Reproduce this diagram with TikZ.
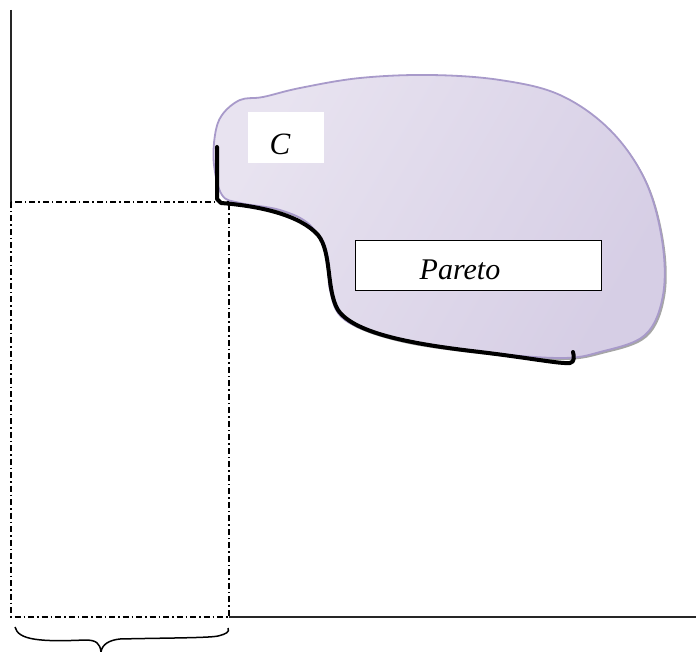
\documentclass[tikz,border=0pt]{standalone}
\usepackage{fontspec}
\setmainfont{Liberation Serif}
\begin{document}
\begin{tikzpicture}[x=1pt,y=-1pt,
  axis/.style={line width=1.5pt,black!85},
  dashdot/.style={line width=1.5pt,dash pattern=on 6pt off 3pt on 1.5pt off 3pt},
  front/.style={line width=4pt,black,line cap=round,line join=round},
  labelbox/.style={fill=white,inner sep=0pt,anchor=north west},
  blobborder/.style={draw={rgb,255:red,168;green,154;blue,202},line width=1.8pt}]
\definecolor{blobA}{RGB}{232,227,240}
\definecolor{blobB}{RGB}{214,206,229}
\useasboundingbox (0,0) rectangle (696,652);
% shadow
\fill[black!35] plot[smooth cycle,tension=0.6] coordinates {
 (224,118) (242,102) (265,99) (300,90) (360,80) (430,77) (500,82) (560,97)
 (612,132) (647,182) (664,242) (665,297) (647,337) (602,354) (560,360) (480,354)
 (400,342) (347,322) (332,292) (329,257) (312,227) (282,212) (242,205) (224,197)
 (216,167) (217,137)};
% blob
\path[blobborder,left color=blobA,right color=blobB,shading angle=60]
 plot[smooth cycle,tension=0.6] coordinates {
 (222,115) (240,100) (263,97) (300,88) (360,78) (430,75) (500,80) (560,95)
 (610,130) (645,180) (662,240) (663,295) (645,335) (600,352) (560,358) (480,352)
 (400,340) (345,320) (330,290) (327,255) (310,225) (280,210) (240,203) (222,195)
 (214,165) (215,135)};
% axes
\coordinate (top) at (11,10);
\coordinate (corner) at (11,202);
\coordinate (xend) at (696,617);
\coordinate (xstart) at (229,617);
\draw[axis] (top) -- (corner);
\draw[axis] (xstart) -- (xend);
% dash-dot rectangle
\coordinate (r1) at (11,202);
\coordinate (r2) at (229,617);
\draw[dashdot] (r1) rectangle (r2);
% Pareto front
\coordinate (f0) at (217,147);
\coordinate (f1) at (217,199);
\draw[front] (f0) -- (f1) -- (221,203) .. controls (260,206) and (300,215) .. (318,235)
 .. controls (332,252) and (326,290) .. (338,310)
 .. controls (355,335) and (420,345) .. (480,352)
 .. controls (530,358) and (560,364) .. (570,363) .. controls (575,362) and (574,356) .. (573,352);
% labels
\node[labelbox,minimum width=76pt,minimum height=51pt] (cbox) at (248,112) {};
\node[font=\fontsize{31}{31}\selectfont\itshape,anchor=base] (clabel) at (280,155) {C};
\node[draw,line width=1.2pt,fill=white,inner sep=0pt,anchor=north west,minimum width=246pt,minimum height=50pt] (pbox) at (355,240) {};
\node[font=\fontsize{30}{30}\selectfont\itshape,anchor=base] (plabel) at (460,280) {Pareto};
% brace
\coordinate (b0) at (15,627);
\coordinate (b1) at (228,628);
\coordinate (btip) at (101,652);
\draw[line width=1.5pt] (b0) .. controls (18,640) and (40,642) .. (85,640)
 .. controls (96,640) and (100,643) .. (btip);
\draw[line width=1.5pt] (btip) .. controls (102,644) and (110,640) .. (120,639)
 .. controls (160,638) and (210,638) .. (218,636) .. controls (226,634) and (230,632) .. (b1);
\end{tikzpicture}
\end{document}
